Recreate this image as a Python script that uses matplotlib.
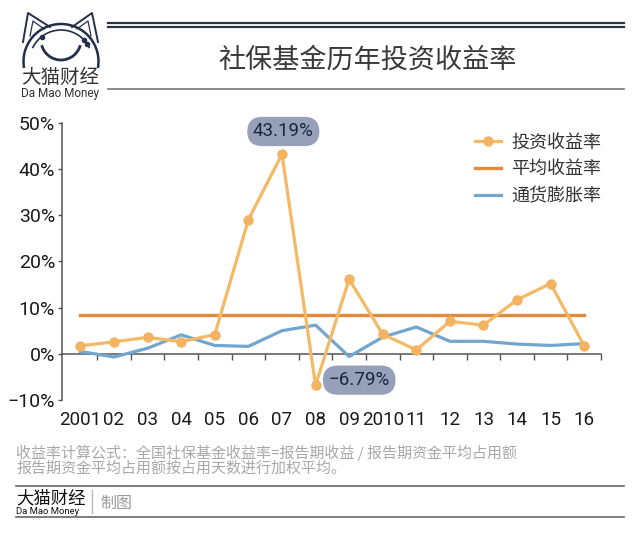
import matplotlib
matplotlib.use("Agg")
import matplotlib.pyplot as plt
from matplotlib.patches import Arc
import numpy as np

plt.rcParams['font.family'] = ['Noto Sans CJK SC', 'DejaVu Sans']

# ---------------- data ----------------
years = ['2001', '02', '03', '04', '05', '06', '07', '08', '09', '2010',
         '11', '12', '13', '14', '15', '16']
invest_return = [1.73, 2.59, 3.56, 2.61, 4.16, 29.01, 43.19, -6.79, 16.12,
                 4.23, 0.84, 7.01, 6.20, 11.69, 15.19, 1.73]
avg_return = 8.37
inflation = [0.5, -0.7, 1.2, 4.1, 1.8, 1.6, 5.0, 6.2, -0.6, 3.6, 5.8,
             2.7, 2.7, 2.1, 1.8, 2.2]
yticks = [-10, 0, 10, 20, 30, 40, 50]
series_names = ['投资收益率', '平均收益率', '通货膨胀率']
title = '社保基金历年投资收益率'
note1 = '收益率计算公式：全国社保基金收益率=报告期收益 / 报告期资金平均占用额'
note2 = '报告期资金平均占用额按占用天数进行加权平均。'

W, H = 640, 535
fig = plt.figure(figsize=(W / 100, H / 100), dpi=100)
fig.patch.set_facecolor('white')

# ---------------- main axes ----------------
left, right = 62 / W, 601 / W
bottom, top = 1 - 400 / H, 1 - 122.7 / H
ax = fig.add_axes([left, bottom, right - left, top - bottom])
x = np.arange(len(years))

c_inv = '#F5B865'
c_avg = '#E38B3D'
c_inf = '#72A6CF'

h_inf, = ax.plot(x, inflation, color=c_inf, lw=2.3, zorder=3)
h_avg, = ax.plot([x[0], x[-1]], [avg_return, avg_return], color=c_avg, lw=2.4,
                 zorder=4)
h_inv, = ax.plot(x, invest_return, color=c_inv, lw=2.3, marker='o', ms=6.5,
                 mfc='#F3B361', mec='#F3B361', zorder=5)

ax.set_xlim(-0.55, 15.5)
ax.set_ylim(-10, 50)

for s in ['top', 'right']:
    ax.spines[s].set_visible(False)
ax.spines['left'].set_color('#555555')
ax.spines['left'].set_linewidth(1.1)
ax.spines['bottom'].set_position(('data', 0))
ax.spines['bottom'].set_color('#555555')
ax.spines['bottom'].set_linewidth(1.1)

ax.set_yticks(yticks)
ax.set_yticklabels([f'{v}%' if v >= 0 else f'\u2212{abs(v)}%' for v in yticks],
                   family=['Roboto', 'DejaVu Sans'], fontsize=14, color='#1a1a1a')
ax.tick_params(axis='y', direction='out', length=3, width=1, color='#555555', pad=2)

ax.set_xticks(x)
ax.set_xticklabels(years, family=['Roboto', 'DejaVu Sans'], fontsize=13.5,
                   color='#1a1a1a')
ax.tick_params(axis='x', which='major', length=0, pad=41)
ax.set_xticks(np.arange(0.5, 15.6, 1), minor=True)
ax.tick_params(axis='x', which='minor', direction='out', length=4, width=1,
               color='#555555')

# annotations
i_max = int(np.argmax(invest_return))
i_min = int(np.argmin(invest_return))
box = dict(boxstyle='round,pad=0.3,rounding_size=0.8', fc='#96A1B9', ec='none')
ax.text(x[i_max] + 0.04, 48.1, f'{invest_return[i_max]:.2f}%',
        ha='center', va='center', fontsize=13.5, color='#1c2540',
        family=['Roboto', 'DejaVu Sans'], zorder=6, bbox=box)
ax.text(x[i_min] + 1.3, -5.7, f'\u2212{abs(invest_return[i_min]):.2f}%',
        ha='center', va='center', fontsize=13.5, color='#1c2540',
        family=['Roboto', 'DejaVu Sans'], zorder=6, bbox=box)

ax.legend([h_inv, h_avg, h_inf], series_names, loc='upper right',
          bbox_to_anchor=(1.03, 1.02), frameon=False,
          fontsize=13, handlelength=1.45, handletextpad=0.55,
          labelspacing=0.5, labelcolor='#333333')

# ---------------- decorations (pixel coords) ----------------
ov = fig.add_axes([0, 0, 1, 1], zorder=-1)
ov.set_xlim(0, W)
ov.set_ylim(H, 0)
ov.axis('off')

# header lines
ov.plot([108, 624], [23, 23], color='#2b3440', lw=1.6)
ov.plot([108, 624], [27, 27], color='#2b3440', lw=1.6)
ov.plot([108, 624], [89, 89], color='#777777', lw=1.2)
ov.text(367, 60, title, ha='center', va='center', fontsize=19.5,
        color='#3a3a3a')

# logo (y axis points down in this overlay)
navy = '#22304a'
ov.add_patch(Arc((61, 61.5), 75, 75, theta1=170, theta2=370, color=navy, lw=1.8))
ov.add_patch(Arc((61, 61.5), 63, 63, theta1=205, theta2=335, color=navy, lw=1.2))
ov.plot([23, 28, 50], [42, 13, 27], color=navy, lw=1.4)
ov.plot([98, 92, 72], [42, 13, 27], color=navy, lw=1.4)
ov.plot([30, 33, 44], [36, 21, 29], color=navy, lw=0.9)
ov.plot([91, 88, 77], [36, 21, 29], color=navy, lw=0.9)
ov.add_patch(Arc((61, 40), 40, 40, theta1=15, theta2=165, color=navy, lw=2.0))
ov.plot([42, 84, 87], [37, 40, 44], 'o', color=navy, ms=3)
ov.text(60, 77, '大猫财经', ha='center', va='center', fontsize=14, color='#333333')
ov.text(60, 93, 'Da Mao Money', ha='center', va='center', fontsize=8.5,
        family=['Roboto', 'DejaVu Sans'], color='#333333')

# footer
ov.text(16, 453, note1, ha='left', va='center', fontsize=10.8, color='#a8a8a8')
ov.text(16, 469, note2, ha='left', va='center', fontsize=10.8, color='#a8a8a8')
ov.plot([16, 624], [486, 486], color='#666666', lw=1.2)
ov.plot([16, 624], [517, 517], color='#666666', lw=1.2)
ov.text(16, 498, '大猫财经', ha='left', va='center', fontsize=12.5,
        color='#111111', weight='medium')
ov.text(16, 511, 'Da Mao Money', ha='left', va='center', fontsize=6.8,
        family=['Roboto', 'DejaVu Sans'], color='#111111')
ov.plot([92, 92], [490, 513], color='#bbbbbb', lw=1)
ov.text(100, 503, '制图', ha='left', va='center', fontsize=11.5, color='#999999')

fig.savefig('out.png', dpi=100, facecolor='white')
